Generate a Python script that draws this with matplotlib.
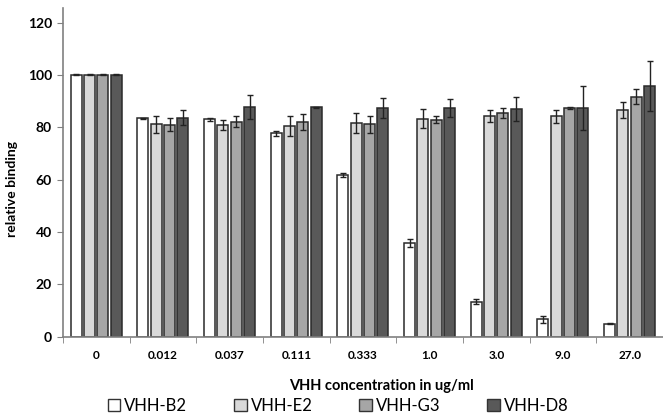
import matplotlib
matplotlib.use("Agg")
import matplotlib.pyplot as plt
import numpy as np
from matplotlib.patches import Patch

plt.rcParams['font.family'] = ['Lato', 'DejaVu Sans']

categories = ["0", "0.012", "0.037", "0.111", "0.333", "1.0", "3.0", "9.0", "27.0"]
series_names = ["VHH-B2", "VHH-E2", "VHH-G3", "VHH-D8"]
b2 = [100, 83.4, 83.0, 77.7, 61.8, 35.7, 13.4, 6.6, 5.0]
e2 = [100, 81.2, 80.9, 80.6, 81.8, 83.3, 84.3, 84.2, 86.5]
g3 = [100, 81.0, 82.2, 81.9, 81.2, 82.9, 85.4, 87.3, 91.7]
d8 = [100, 83.7, 87.7, 87.7, 87.5, 87.3, 87.1, 87.3, 95.9]
b2_err = [0.2, 0.3, 0.5, 1.0, 0.7, 1.5, 1.0, 1.3, 0.3]
e2_err = [0.2, 3.3, 2.0, 3.8, 3.8, 3.6, 2.4, 2.6, 3.0]
g3_err = [0.2, 2.4, 2.0, 3.0, 3.2, 1.4, 2.0, 0.3, 2.9]
d8_err = [0.2, 3.0, 4.5, 0.2, 3.8, 3.4, 4.6, 8.3, 9.6]
colors = ["#ffffff", "#d9d9d9", "#a6a6a6", "#595959"]

values = [b2, e2, g3, d8]
errors = [b2_err, e2_err, g3_err, d8_err]

fig = plt.figure(figsize=(6.63, 4.13), dpi=100)
ax = fig.add_axes([0.095, 0.185, 0.905, 0.795])

x = np.arange(len(categories))
width = 0.165
step = 0.2
for i, (vals, errs, c) in enumerate(zip(values, errors, colors)):
    pos = x + (i - 1.5) * step
    ax.bar(pos, vals, width=width, color=c, edgecolor="#2a2a2a", linewidth=1.1,
           yerr=errs, error_kw=dict(ecolor="#222222", elinewidth=1.0, capsize=2, capthick=1.0),
           label=series_names[i], zorder=2)

ax.set_xlim(-0.5, 8.47)
ax.set_ylim(0, 125.5)
ax.set_yticks(np.arange(0, 121, 20))
ax.set_xticks(x)
ax.set_xticklabels(categories, fontsize=8.5, fontweight="bold")
ax.set_xticks(np.arange(-0.5, 8.6, 1.0), minor=True)
ax.tick_params(axis="x", which="major", length=0, pad=10)
ax.tick_params(axis="x", which="minor", length=4, direction="out", color="#808080")
ax.tick_params(axis="y", length=4, direction="out", color="#808080", labelsize=10, pad=4)
for lbl in ax.get_yticklabels():
    lbl.set_fontweight("bold")
for s in ["top", "right"]:
    ax.spines[s].set_visible(False)
for s in ["left", "bottom"]:
    ax.spines[s].set_color("#808080")
    ax.spines[s].set_linewidth(1.2)

ax.set_ylabel("relative binding", fontsize=10, fontweight="bold")
ax.yaxis.set_label_coords(-0.075, 0.45)
ax.set_xlabel("VHH concentration in ug/ml", fontsize=10.5, fontweight="bold")
ax.xaxis.set_label_coords(0.53, -0.13)

handles = [Patch(facecolor=c, edgecolor="#333333", linewidth=1.0) for c in colors]
fig.legend(handles, series_names, loc="center", bbox_to_anchor=(0.51, 0.017), ncol=4,
           frameon=False, fontsize=12, handlelength=0.75, handleheight=0.75,
           handletextpad=0.25, columnspacing=2.8, borderaxespad=0)

fig.savefig("out.png", dpi=100)
